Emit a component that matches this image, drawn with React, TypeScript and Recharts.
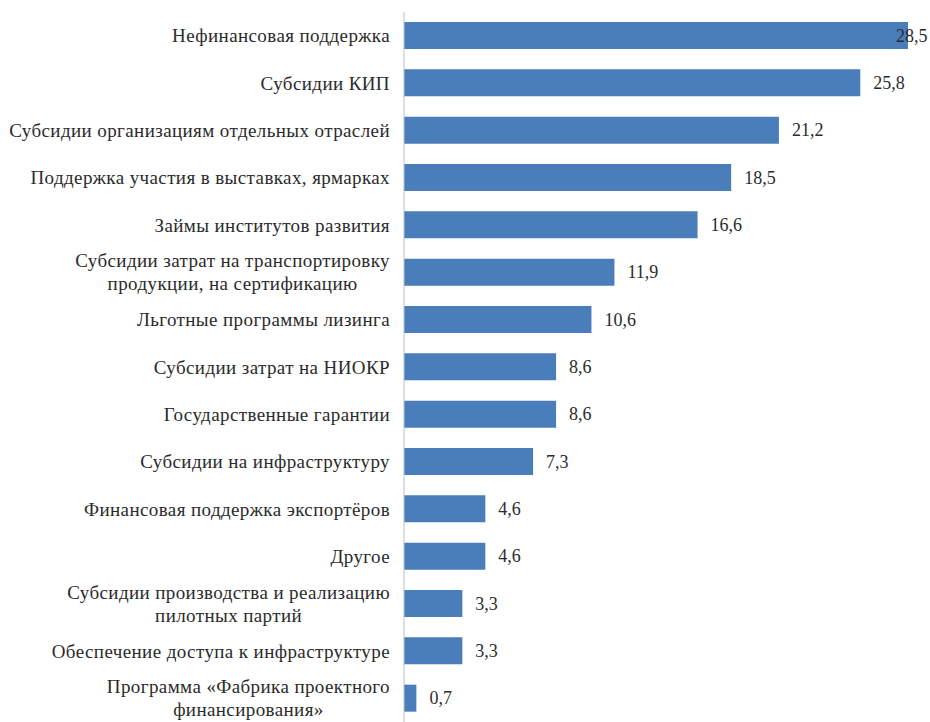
import React from 'react';
import { BarChart, Bar, XAxis, YAxis, LabelList } from 'recharts';

const categories = [
  'Нефинансовая поддержка',
  'Субсидии КИП',
  'Субсидии организациям отдельных отраслей',
  'Поддержка участия в выставках, ярмарках',
  'Займы институтов развития',
  'Субсидии затрат на транспортировку\nпродукции, на сертификацию',
  'Льготные программы лизинга',
  'Субсидии затрат на НИОКР',
  'Государственные гарантии',
  'Субсидии на инфраструктуру',
  'Финансовая поддержка экспортёров',
  'Другое',
  'Субсидии производства и реализацию\nпилотных партий',
  'Обеспечение доступа к инфраструктуре',
  'Программа «Фабрика проектного\nфинансирования»',
];

const values = [28.5, 25.8, 21.2, 18.5, 16.6, 11.9, 10.6, 8.6, 8.6, 7.3, 4.6, 4.6, 3.3, 3.3, 0.7];

const chartData = categories.map((name, i) => ({ name, value: values[i] }));

const FONT = '"Liberation Serif", "Times New Roman", serif';
const FONT_SIZE = 19;
const SPACING = 0.4;
const TEXT_COLOR = '#2b2b2b';
const WIDTH = 930;
const HEIGHT = 722;

let ctx: CanvasRenderingContext2D | null = null;
const measure = (s: string) => {
  if (!ctx) {
    ctx = document.createElement('canvas').getContext('2d');
  }
  if (!ctx) return s.length * FONT_SIZE * 0.48;
  ctx.font = `${FONT_SIZE}px ${FONT}`;
  return ctx.measureText(s).width + s.length * SPACING;
};

const CategoryTick = (props: any) => {
  const { x, y, payload } = props;
  const lines: string[] = String(payload.value).split('\n');
  const right = x - 6;
  const lineH = 23;
  if (lines.length === 1) {
    return (
      <text x={right} y={y} dy="0.35em" textAnchor="end" fontFamily={FONT} fontSize={FONT_SIZE} letterSpacing={SPACING} fill={TEXT_COLOR}>
        {lines[0]}
      </text>
    );
  }
  // multi-line labels are centred on each other, block aligned right
  const maxW = Math.max(...lines.map(measure));
  const cx = right - maxW / 2;
  const startY = y - ((lines.length - 1) * lineH) / 2;
  return (
    <text textAnchor="middle" fontFamily={FONT} fontSize={FONT_SIZE} letterSpacing={SPACING} fill={TEXT_COLOR}>
      {lines.map((l, i) => (
        <tspan key={i} x={cx} y={startY + i * lineH} dy="0.35em">
          {l}
        </tspan>
      ))}
    </text>
  );
};

const ValueLabel = (props: any) => {
  const { x, y, width, height, value } = props;
  // the longest bar's label runs into the bar, as in the source
  const lx = Math.min(x + width + 13, WIDTH - 34);
  return (
    <text x={lx} y={y + height / 2} dy="0.35em" textAnchor="start" fontFamily={FONT} fontSize={18} fill={TEXT_COLOR}>
      {String(value).replace('.', ',')}
    </text>
  );
};

export default function App() {
  return (
    <div style={{ position: 'absolute', left: 0, top: 0, width: WIDTH, height: HEIGHT, overflow: 'hidden', background: '#fff' }}>
      <BarChart
        width={WIDTH}
        height={HEIGHT}
        data={chartData}
        layout="vertical"
        margin={{ top: 12, right: 22, bottom: 0, left: 0 }}
        barSize={27}
      >
        <XAxis type="number" domain={[0, 28.5]} hide />
        <YAxis
          type="category"
          dataKey="name"
          width={404}
          tickLine={false}
          axisLine={{ stroke: '#bfbfbf' }}
          tick={<CategoryTick />}
          interval={0}
        />
        <Bar dataKey="value" fill="#4a7ebb" isAnimationActive={false}>
          <LabelList dataKey="value" content={<ValueLabel />} />
        </Bar>
      </BarChart>
    </div>
  );
}
